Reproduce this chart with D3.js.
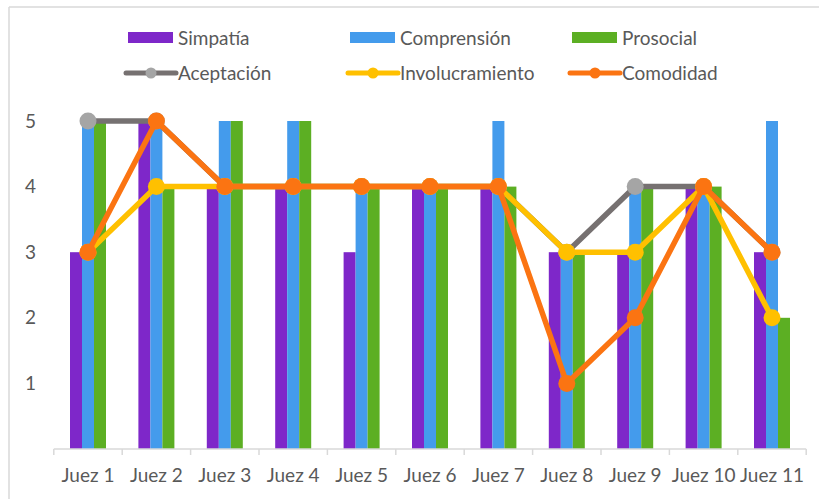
<!DOCTYPE html>
<html>
<head>
<meta charset="utf-8">
<script src="https://cdn.jsdelivr.net/npm/d3@7/dist/d3.min.js"></script>
<style>
  html, body { margin: 0; padding: 0; background: #ffffff; }
  svg { display: block; }
  text { font-family: Lato, "Open Sans", sans-serif; fill: #595959; }
</style>
</head>
<body>
<svg id="chart" width="819" height="499"></svg>
<script>
// Judges on the x axis
const categories = ["Juez 1", "Juez 2", "Juez 3", "Juez 4", "Juez 5", "Juez 6",
                    "Juez 7", "Juez 8", "Juez 9", "Juez 10", "Juez 11"];

// Bar series
const simpatia     = [3, 5, 4, 4, 3, 4, 4, 3, 3, 4, 3];
const comprension  = [5, 5, 5, 5, 4, 4, 5, 3, 4, 4, 5];
const prosocial    = [5, 4, 5, 5, 4, 4, 4, 3, 4, 4, 2];

// Line series
const aceptacion      = [5, 5, 4, 4, 4, 4, 4, 3, 4, 4, 3];
const involucramiento = [3, 4, 4, 4, 4, 4, 4, 3, 3, 4, 2];
const comodidad       = [3, 5, 4, 4, 4, 4, 4, 1, 2, 4, 3];

const yTicks = [1, 2, 3, 4, 5];

const barSeries = [
  { name: "Simpatía",    values: simpatia,    color: "#7e27c9" },
  { name: "Comprensión", values: comprension, color: "#449bec" },
  { name: "Prosocial",   values: prosocial,   color: "#5caf23" }
];
const lineSeries = [
  { name: "Aceptación",      values: aceptacion,      color: "#767171", marker: "#a5a5a5" },
  { name: "Involucramiento", values: involucramiento, color: "#ffc000", marker: "#ffc000" },
  { name: "Comodidad",       values: comodidad,       color: "#fb7412", marker: "#fb7412" }
];

const svg = d3.select("#chart");
const W = 819, H = 499;
const FONT = 19;

// Chart frame (top and left edges visible)
svg.append("line").attr("x1", 9).attr("x2", W).attr("y1", 7).attr("y2", 7)
  .attr("stroke", "#d9d9d9").attr("stroke-width", 1.5);
svg.append("line").attr("x1", 9).attr("x2", 9).attr("y1", 7).attr("y2", H)
  .attr("stroke", "#d9d9d9").attr("stroke-width", 1.5);

const plot = { left: 53.8, right: 806.2, top: 121, bottom: 449 };

const x = d3.scaleBand().domain(categories).range([plot.left, plot.right]).paddingInner(0).paddingOuter(0);
const y = d3.scaleLinear().domain([0, 5]).range([plot.bottom, plot.top]);

const groupWidth = 36;
const xs = d3.scaleBand().domain(barSeries.map(s => s.name))
  .range([0, groupWidth]).padding(0);

// Bars
barSeries.forEach(s => {
  svg.append("g").selectAll("rect")
    .data(s.values)
    .join("rect")
    .attr("x", (d, i) => x(categories[i]) + x.bandwidth() / 2 - groupWidth / 2 + xs(s.name))
    .attr("y", d => y(d))
    .attr("width", xs.bandwidth())
    .attr("height", d => y(0) - y(d))
    .attr("fill", s.color);
});

// X axis with tick marks at band boundaries
const xAxisG = svg.append("g").attr("transform", `translate(0,${plot.bottom})`);
xAxisG.append("line").attr("x1", plot.left).attr("x2", plot.right)
  .attr("y1", 0).attr("y2", 0).attr("stroke", "#d9d9d9").attr("stroke-width", 1.5);
const boundaries = categories.map(c => x(c)).concat([x(categories[categories.length - 1]) + x.bandwidth()]);
xAxisG.selectAll("line.tick").data(boundaries).join("line")
  .attr("class", "tick")
  .attr("x1", d => d).attr("x2", d => d).attr("y1", 0).attr("y2", 6)
  .attr("stroke", "#d9d9d9").attr("stroke-width", 1.5);
xAxisG.selectAll("text").data(categories).join("text")
  .attr("x", d => x(d) + x.bandwidth() / 2)
  .attr("y", 33)
  .attr("text-anchor", "middle")
  .attr("font-size", FONT)
  .text(d => d);

// Y axis labels
const yAxis = d3.axisLeft(y).tickValues(yTicks).tickSize(0).tickPadding(0).tickFormat(d3.format("d"));
const yAxisG = svg.append("g").attr("transform", "translate(36,0)").call(yAxis);
yAxisG.select(".domain").remove();
yAxisG.selectAll("text").attr("font-size", FONT).attr("font-family", "Lato, sans-serif").attr("fill", "#595959");

// Lines with markers
const lineGen = d3.line().x((d, i) => x(categories[i]) + x.bandwidth() / 2).y(d => y(d));
lineSeries.forEach(s => {
  const g = svg.append("g");
  g.append("path").datum(s.values)
    .attr("d", lineGen)
    .attr("fill", "none")
    .attr("stroke", s.color)
    .attr("stroke-width", 5.5)
    .attr("stroke-linejoin", "round");
  g.selectAll("circle").data(s.values).join("circle")
    .attr("cx", (d, i) => x(categories[i]) + x.bandwidth() / 2)
    .attr("cy", d => y(d))
    .attr("r", 8.5)
    .attr("fill", s.marker);
});

// Legend
const legendX0 = 128, legendDX = 222;
const legend = svg.append("g");
barSeries.forEach((s, i) => {
  const lx = legendX0 + i * legendDX;
  legend.append("rect").attr("x", lx).attr("y", 32).attr("width", 45).attr("height", 11).attr("fill", s.color);
  legend.append("text").attr("x", lx + 50).attr("y", 44.5).attr("font-size", FONT).text(s.name);
});
lineSeries.forEach((s, i) => {
  const lx = legendX0 + i * legendDX - 2;
  legend.append("line").attr("x1", lx).attr("x2", lx + 50).attr("y1", 73).attr("y2", 73)
    .attr("stroke", s.color).attr("stroke-width", 5).attr("stroke-linecap", "round");
  legend.append("circle").attr("cx", lx + 25).attr("cy", 73).attr("r", 5.5).attr("fill", s.marker);
  legend.append("text").attr("x", lx + 52).attr("y", 79.5).attr("font-size", FONT).text(s.name);
});
</script>
</body>
</html>
